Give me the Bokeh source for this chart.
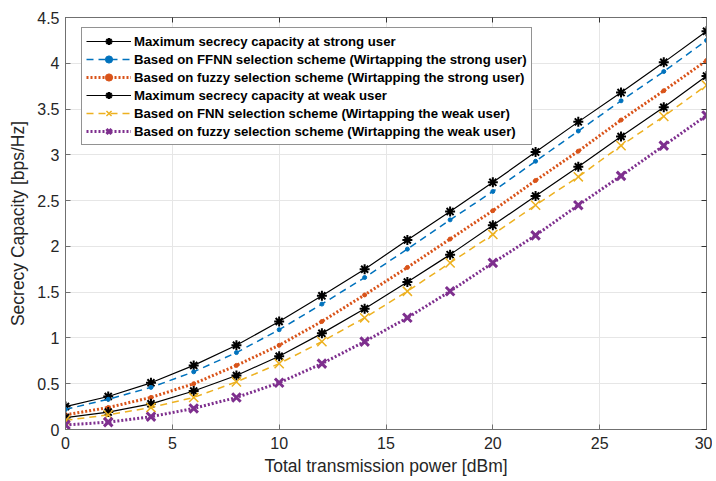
from bokeh.plotting import figure
from bokeh.models import LinearAxis, Range1d, FixedTicker, Legend, CustomJSTickFormatter
from bokeh.embed import file_html
from bokeh.resources import INLINE

power_dbm = [0, 2, 4, 6, 8, 10, 12, 14, 16, 18, 20, 22, 24, 26, 28, 30]

max_strong = [0.25, 0.36, 0.51, 0.70, 0.92, 1.18, 1.46, 1.75, 2.07, 2.38, 2.70, 3.03, 3.36, 3.68, 4.01, 4.35]
ffnn_strong = [0.22, 0.33, 0.46, 0.63, 0.84, 1.09, 1.37, 1.66, 1.97, 2.29, 2.60, 2.93, 3.26, 3.59, 3.91, 4.25]
fuzzy_strong = [0.16, 0.24, 0.35, 0.50, 0.70, 0.92, 1.18, 1.47, 1.77, 2.08, 2.39, 2.72, 3.04, 3.38, 3.70, 4.03]
max_weak = [0.13, 0.19, 0.28, 0.42, 0.59, 0.80, 1.05, 1.32, 1.61, 1.91, 2.23, 2.55, 2.87, 3.20, 3.52, 3.86]
fnn_weak = [0.10, 0.16, 0.24, 0.35, 0.52, 0.72, 0.96, 1.22, 1.51, 1.82, 2.13, 2.45, 2.76, 3.10, 3.42, 3.76]
fuzzy_weak = [0.05, 0.08, 0.14, 0.23, 0.35, 0.51, 0.72, 0.96, 1.22, 1.51, 1.82, 2.12, 2.45, 2.77, 3.10, 3.43]

labels = [
    "Maximum secrecy capacity at strong user",
    "Based on FFNN selection scheme (Wirtapping the strong user)",
    "Based on fuzzy selection scheme (Wirtapping the strong user)",
    "Maximum secrecy capacity at weak user",
    "Based on FNN selection scheme (Wirtapping the weak user)",
    "Based on fuzzy selection scheme (Wirtapping the weak user)",
]

x_ticks = [0, 5, 10, 15, 20, 25, 30]
y_ticks = [0, 0.5, 1, 1.5, 2, 2.5, 3, 3.5, 4, 4.5]

FONT = "Liberation Sans"
AX = "#707070"

p = figure(width=712, height=478, output_backend="svg", toolbar_location=None,
           x_range=Range1d(0, 30), y_range=Range1d(0, 4.5),
           min_border_left=65, min_border_right=6, min_border_top=17, min_border_bottom=47)
p.background_fill_color = "white"
p.border_fill_color = "white"
p.outline_line_color = AX
p.outline_line_width = 1

for ax in [p.xaxis[0], p.yaxis[0]]:
    ax.major_tick_in = 5
    ax.major_tick_out = 0
    ax.minor_tick_line_color = None
    ax.axis_line_color = AX
    ax.major_tick_line_color = AX
    ax.major_label_text_font = FONT
    ax.major_label_text_font_size = "16px"
    ax.major_label_text_color = "#262626"
    ax.axis_label_text_font = FONT
    ax.axis_label_text_font_size = "17.5px"
    ax.axis_label_text_font_style = "normal"
    ax.axis_label_text_color = "#262626"

p.xaxis[0].ticker = FixedTicker(ticks=x_ticks)
p.yaxis[0].ticker = FixedTicker(ticks=y_ticks)
p.xaxis[0].axis_label = "Total transmission power [dBm]"
p.yaxis[0].axis_label = "Secrecy Capacity [bps/Hz]"
p.xaxis[0].axis_label_standoff = 4
p.yaxis[0].axis_label_standoff = 6
p.xaxis[0].major_label_standoff = 7
p.yaxis[0].major_label_standoff = 6

for loc, tk in [("right", y_ticks), ("above", x_ticks)]:
    a = LinearAxis(ticker=FixedTicker(ticks=tk),
                   formatter=CustomJSTickFormatter(code="return '';"),
                   major_label_standoff=0,
                   major_tick_in=5, major_tick_out=0, minor_tick_line_color=None,
                   axis_line_color=AX, major_tick_line_color="#333333")
    p.add_layout(a, loc)

p.xgrid.ticker = FixedTicker(ticks=x_ticks)
p.ygrid.ticker = FixedTicker(ticks=y_ticks)
p.grid.grid_line_color = "#e6e6e6"
p.grid.grid_line_width = 1

items = []

def series(y, label, color, dash, lw, marker, msize, mlw):
    r1 = p.line(power_dbm, y, line_color=color, line_dash=dash, line_width=lw)
    r2 = p.scatter(power_dbm, y, marker=marker, size=msize, line_color=color,
                   fill_color=color, line_width=mlw)
    items.append((label, [r1, r2]))

series(max_strong, labels[0], "black", "solid", 1.2, "asterisk", 10, 2)
series(ffnn_strong, labels[1], "#0072BD", "7 5", 1.5, "circle", 4, 1)
series(fuzzy_strong, labels[2], "#D95319", "2 2", 3, "circle", 4, 1)
series(max_weak, labels[3], "black", "solid", 1.2, "asterisk", 10, 2)
series(fnn_weak, labels[4], "#EDB120", "7 5", 1.5, "x", 13, 1.5)
series(fuzzy_weak, labels[5], "#7E2F8E", "2 2", 3, "x", 12, 3)

legend = Legend(items=items, location=(16, 284), margin=0,
                label_text_font=FONT, label_text_font_size="13.2px",
                label_text_font_style="bold", label_text_color="black",
                glyph_width=45, glyph_height=18, label_height=18, spacing=0,
                label_standoff=3, padding=4,
                border_line_color="#262626", border_line_width=1,
                background_fill_color="white", background_fill_alpha=1)
p.add_layout(legend)

open("out.html", "w").write(file_html(p, INLINE))
